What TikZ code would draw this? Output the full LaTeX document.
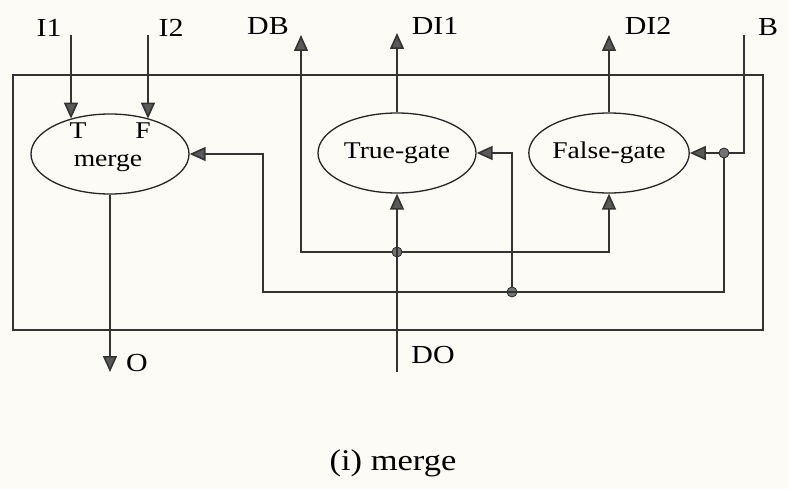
\documentclass[tikz,border=0pt]{standalone}
\usepackage{fontspec}
\setmainfont{Liberation Serif}[FakeStretch=1.15]
\usepackage{tikz}
\usetikzlibrary{shapes.geometric, arrows.meta}

\begin{document}
\begin{tikzpicture}[x=1pt, y=-1pt, font=\fontsize{26}{30}\selectfont,
  wire/.style={draw=black!80, line width=1.6pt},
  arr/.style={wire, -{Triangle[length=16pt, width=14pt, fill=black!65]}},
  gate/.style={ellipse, draw=black!85, line width=1.3pt, minimum width=158pt, minimum height=80pt, inner sep=0pt, font=\fontsize{24}{28}\selectfont},
  dot/.style={circle, draw=black!85, fill=black!55, line width=0.8pt, inner sep=0pt, minimum size=10pt},
  lbl/.style={inner sep=0pt}]
  \definecolor{paper}{RGB}{252,251,245}
  \fill[paper] (0,0) rectangle (789,489);
  \useasboundingbox (0,0) rectangle (789,489);
  % outer frame
  \draw[wire] (13,75) rectangle (763,330);
  \node[gate] (merge) at (110,154) {};
  \node[gate] (truegate) at (397,153) {True-gate};
  \node[gate] (falsegate) at (609,153) {False-gate};
  \node[lbl, font=\fontsize{24}{28}\selectfont] (tlab) at (78,131) {T};
  \node[lbl, font=\fontsize{24}{28}\selectfont] (flab) at (143,131) {F};
  \node[lbl, font=\fontsize{24}{28}\selectfont] (mlab) at (108,163) {merge};
  % ports
  \coordinate (i1) at (71,35);
  \coordinate (i2) at (148,35);
  \coordinate (o) at (110,372);
  \coordinate (db) at (301,35);
  \coordinate (di1) at (397,33);
  \coordinate (di2) at (609,35);
  \coordinate (b) at (744,35);
  \coordinate (do) at (397,372);
  \coordinate (corner) at (263,292);
  \node[lbl] (i1lab) at (49,28) {I1};
  \node[lbl] (i2lab) at (171,28) {I2};
  \node[lbl] (dblab) at (268,26) {DB};
  \node[lbl] (di1lab) at (435,26) {DI1};
  \node[lbl] (di2lab) at (648,26) {DI2};
  \node[lbl] (blab) at (768,27) {B};
  \node[lbl] (olab) at (137,363) {O};
  \node[lbl] (dolab) at (433,355) {DO};
  % junctions
  \node[dot] (j1) at (397,252) {};
  \node[dot] (j2) at (512,292) {};
  \node[dot] (j3) at (724,153) {};
  \draw[arr] (i1) -- (i1 |- merge.138);
  \draw[arr] (i2) -- (i2 |- merge.42);
  \draw[arr] (merge.south) -- (o);
  \draw[arr] (do) -- (truegate.south);
  \draw[arr] (truegate.north) -- (di1);
  \draw[arr] (falsegate.north) -- (di2);
  \draw[arr] (j1) -| (db);
  \draw[arr] (j1) -| (falsegate.south);
  \draw[wire] (b) |- (j3);
  \draw[arr] (j3) -- (falsegate.east);
  \draw[arr] (j3) |- (corner) |- (merge.east);
  \draw[arr] (j2) |- (truegate.east);
  \node[lbl, font=\fontsize{30}{34}\selectfont] (caption) at (393,463) {(i) merge};
\end{tikzpicture}
\end{document}
